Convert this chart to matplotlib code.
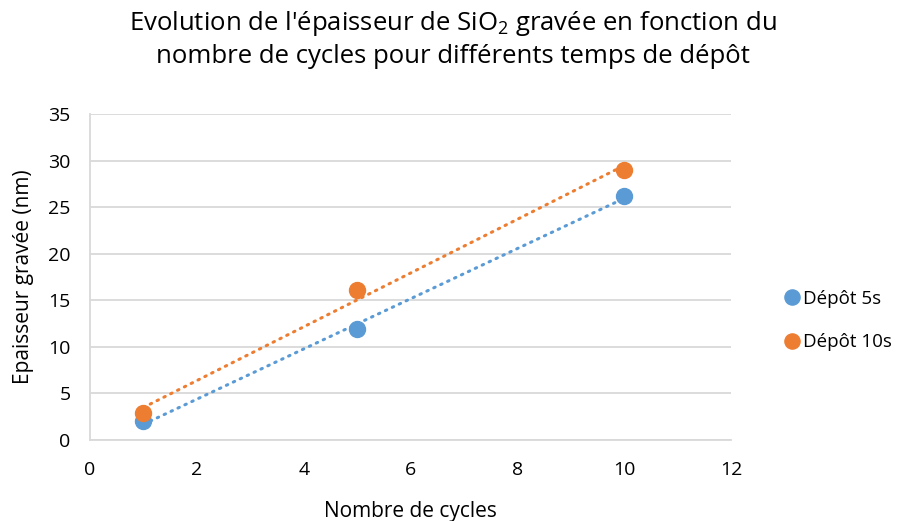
import numpy as np
import matplotlib
matplotlib.use("Agg")
import matplotlib.pyplot as plt

plt.rcParams["font.family"] = ["Open Sans", "DejaVu Sans"]
plt.rcParams["mathtext.default"] = "regular"

# Measured etch depth per cycle count
cycles = [1, 5, 10]
depot_5s = [2.0, 11.9, 26.2]
depot_10s = [2.9, 16.1, 29.0]
series_labels = ["Dépôt 5s", "Dépôt 10s"]
series_colors = ["#5B9BD5", "#ED7D31"]

x_ticks = [0, 2, 4, 6, 8, 10, 12]
y_ticks = [0, 5, 10, 15, 20, 25, 30, 35]

fig = plt.figure(figsize=(9.06, 5.21), dpi=100)
ax = fig.add_axes([0.0993, 0.1555, 0.7077, 0.6257])

handles = []
for y, label, color in zip([depot_5s, depot_10s], series_labels, series_colors):
    # linear trendline over the measured range
    slope, intercept = np.polyfit(cycles, y, 1)
    xs = np.array([min(cycles), max(cycles)])
    ax.plot(xs, slope * xs + intercept, color=color, linewidth=2.2,
            linestyle=(0, (0.5, 2.0)), dash_capstyle="round", zorder=2)
    h, = ax.plot(cycles, y, "o", color=color, markersize=11.5, label=label, zorder=3)
    handles.append(h)

ax.set_xlim(0, 12)
ax.set_ylim(0, 35)
ax.set_xticks(x_ticks)
ax.set_yticks(y_ticks)
ax.tick_params(length=0, labelsize=14, colors="#000000")
ax.tick_params(axis="x", pad=15)
ax.tick_params(axis="y", pad=14)
ax.grid(True, axis="y", color="#d9d9d9", linewidth=1.3)
ax.set_axisbelow(True)
for side in ["top", "right"]:
    ax.spines[side].set_visible(False)
for side in ["left", "bottom"]:
    ax.spines[side].set_color("#d9d9d9")
    ax.spines[side].set_linewidth(1.3)

ax.set_xlabel("Nombre de cycles", fontsize=15, labelpad=16)
ax.set_ylabel("Epaisseur gravée (nm)", fontsize=15, labelpad=10)

fig.suptitle("Evolution de l'épaisseur de SiO$_{2}$ gravée en fonction du\n"
             "nombre de cycles pour différents temps de dépôt",
             fontsize=18.5, y=0.982, linespacing=1.3)

fig.legend(handles=handles, loc="center left", bbox_to_anchor=(0.849, 0.385),
           frameon=False, fontsize=13.5, handlelength=0.6, handletextpad=0.3,
           labelspacing=1.35, markerscale=0.95)

fig.savefig("out.png", dpi=100)
